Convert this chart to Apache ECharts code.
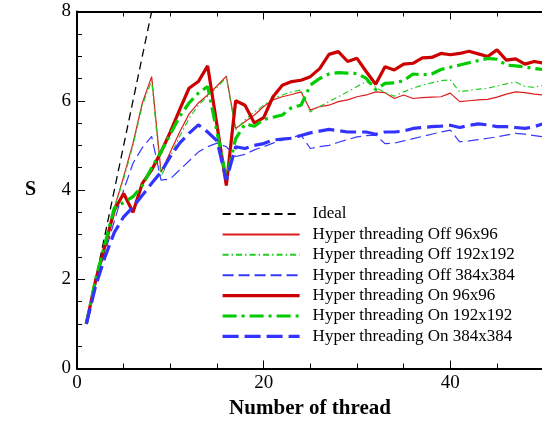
<!DOCTYPE html>
<html>
<head>
<meta charset="utf-8">
<script src="https://cdn.jsdelivr.net/npm/echarts@6/dist/echarts.min.js"></script>
<style>
  html, body { margin: 0; padding: 0; background: #fff; }
  #chart { width: 542px; height: 421px; }
</style>
</head>
<body>
<div id="chart"></div>
<script>
// thread counts (x) for all measured series
var threads = [1, 2, 3, 4, 5, 6, 7, 8, 9, 10, 11, 12, 13, 14, 15, 16, 17, 18, 19, 20,
  21, 22, 23, 24, 25, 26, 27, 28, 29, 30, 31, 32, 33, 34, 35, 36, 37, 38, 39, 40,
  41, 42, 43, 44, 45, 46, 47, 48, 49, 50]

var idealX = [1, 8]
var idealY = [1, 8]

// Hyper threading Off
var off96 = [1.0, 2.0, 2.8, 3.6, 4.3, 5.05, 5.95, 6.54, 4.4, 4.85, 5.3, 5.7, 5.95, 6.13, 6.33, 6.55, 5.38, 5.53, 5.68, 5.87,
  6.02, 6.09, 6.14, 6.2, 5.79, 5.87, 5.9, 5.98, 6.02, 6.09, 6.13, 6.2, 6.18, 6.05, 6.13, 6.05, 6.07, 6.08, 6.09, 6.17,
  5.98, 6.0, 6.02, 6.03, 6.08, 6.15, 6.2, 6.18, 6.15, 6.13]
var off192 = [1.0, 2.0, 2.8, 3.6, 4.25, 5.0, 5.9, 6.45, 4.3, 4.75, 5.2, 5.6, 5.9, 6.1, 6.3, 6.52, 5.34, 5.57, 5.75, 5.9,
  6.05, 6.13, 6.2, 6.24, 5.75, 5.87, 5.98, 6.09, 6.2, 6.32, 6.43, 6.3, 6.18, 6.1, 6.2, 6.28, 6.35, 6.4, 6.45, 6.47,
  6.2, 6.23, 6.26, 6.28, 6.33, 6.38, 6.42, 6.32, 6.3, 6.35]
var off384 = [1.0, 1.9, 2.6, 3.3, 4.0, 4.6, 4.95, 5.2, 4.22, 4.25, 4.45, 4.65, 4.85, 4.97, 5.05, 4.97, 4.75, 4.8, 4.9, 4.97,
  5.05, 5.12, 5.18, 5.23, 4.93, 4.97, 5.0, 5.07, 5.13, 5.19, 5.22, 5.23, 5.04, 5.05, 5.1, 5.15, 5.2, 5.25, 5.3, 5.34,
  5.08, 5.1, 5.13, 5.16, 5.19, 5.23, 5.27, 5.25, 5.22, 5.19]

// Hyper threading On
var on96 = [1.0, 1.98, 2.75, 3.55, 3.92, 3.5, 4.15, 4.45, 4.85, 5.3, 5.8, 6.28, 6.43, 6.78, 5.45, 4.1, 6.0, 5.9, 5.5, 5.62,
  6.09, 6.35, 6.43, 6.46, 6.54, 6.72, 7.04, 7.1, 6.88, 6.95, 6.65, 6.37, 6.76, 6.69, 6.82, 6.84, 6.96, 6.97, 7.06, 7.03,
  7.06, 7.11, 7.05, 6.99, 7.14, 6.91, 6.94, 6.82, 6.88, 6.84]
var on192 = [1.0, 2.0, 2.8, 3.6, 3.72, 3.85, 4.1, 4.5, 4.85, 5.25, 5.65, 5.95, 6.17, 6.32, 5.3, 4.25, 5.15, 5.48, 5.43, 5.58,
  5.63, 5.68, 5.85, 5.9, 6.35, 6.5, 6.6, 6.63, 6.62, 6.61, 6.5, 6.25, 6.39, 6.4, 6.45, 6.6, 6.58, 6.6, 6.7, 6.75,
  6.8, 6.85, 6.9, 6.95, 6.93, 6.8, 6.78, 6.76, 6.72, 6.7]
var on384 = [1.0, 1.85, 2.5, 3.05, 3.4, 3.62, 3.88, 4.15, 4.4, 4.75, 5.05, 5.27, 5.46, 5.3, 5.1, 4.22, 4.97, 4.93, 5.0, 5.04,
  5.12, 5.14, 5.16, 5.22, 5.28, 5.32, 5.36, 5.33, 5.3, 5.3, 5.3, 5.25, 5.3, 5.3, 5.32, 5.38, 5.4, 5.42, 5.43, 5.45,
  5.4, 5.45, 5.48, 5.46, 5.42, 5.42, 5.4, 5.38, 5.42, 5.49]

var seriesNames = ['Ideal', 'Hyper threading Off 96x96', 'Hyper threading Off 192x192', 'Hyper threading Off 384x384',
  'Hyper threading On 96x96', 'Hyper threading On 192x192', 'Hyper threading On 384x384']

var FONT = 'Liberation Serif'

function pairs (xs, ys) {
  return xs.map(function (x, i) { return [x, ys[i]] })
}

function lineSeries (name, data, color, width, dash) {
  return {
    name: name,
    type: 'line',
    data: data,
    symbol: 'none',
    animation: false,
    itemStyle: { color: color },
    lineStyle: { color: color, width: width, type: dash, cap: 'butt' }
  }
}

var chart = echarts.init(document.getElementById('chart'))

// x runs to 60 so the ticks land on 0/20/40 with minors every 5,
// the plot is wider than the window and gets cut at x = 50 like the original
var xBase = {
  type: 'value',
  min: 0,
  max: 60,
  interval: 20,
  axisLine: { show: true, onZero: false, lineStyle: { color: '#000', width: 2 } },
  axisTick: { show: true, inside: true, length: 8, lineStyle: { color: '#000', width: 1 } },
  minorTick: { show: true, splitNumber: 4, length: 5, lineStyle: { color: '#000', width: 1 } },
  splitLine: { show: false }
}
var yBase = {
  type: 'value',
  min: 0,
  max: 8,
  interval: 2,
  axisLine: { show: true, onZero: false, lineStyle: { color: '#000', width: 2 } },
  axisTick: { show: true, inside: true, length: 8, lineStyle: { color: '#000', width: 1 } },
  minorTick: { show: true, splitNumber: 4, length: 5, lineStyle: { color: '#000', width: 1 } },
  splitLine: { show: false }
}

// thick legend samples for the "On" runs
var legendData = seriesNames.map(function (n, i) {
  return i >= 4 ? { name: n, lineStyle: { width: 3.2 } } : { name: n }
})

var option = {
  backgroundColor: '#fff',
  animation: false,
  grid: { left: 77, top: 11.5, width: 560, height: 357, outerBoundsMode: 'none', containLabel: false },
  legend: {
    orient: 'vertical',
    left: 221,
    top: 205.5,
    padding: 0,
    itemWidth: 77,
    itemHeight: 14,
    itemGap: 3.4,
    data: legendData,
    itemStyle: { opacity: 0 },
    textStyle: { fontFamily: FONT, fontSize: 17, color: '#000', padding: [0, 0, 0, 8] }
  },
  xAxis: [
    Object.assign({}, xBase, {
      position: 'bottom',
      name: 'Number of thread',
      nameLocation: 'middle',
      nameGap: 30,
      nameTextStyle: { fontFamily: FONT, fontSize: 21, fontWeight: 'bold', color: '#000', padding: [0, 94, 0, 0] },
      axisLabel: { fontFamily: FONT, fontSize: 19, color: '#000', margin: 5 }
    }),
    Object.assign({}, xBase, { position: 'top', axisLabel: { show: false } })
  ],
  yAxis: [
    Object.assign({}, yBase, {
      position: 'left',
      name: 'S',
      nameLocation: 'middle',
      nameRotate: 0,
      nameGap: 41,
      nameTextStyle: { fontFamily: FONT, fontSize: 20, fontWeight: 'bold', color: '#000' },
      axisLabel: { fontFamily: FONT, fontSize: 19, color: '#000', margin: 6 }
    }),
    Object.assign({}, yBase, { position: 'right', axisLabel: { show: false } })
  ],
  series: [
    lineSeries(seriesNames[0], pairs(idealX, idealY), '#000000', 1.3, [8, 5]),
    lineSeries(seriesNames[1], pairs(threads, off96), '#dd1c1c', 1.2, 'solid'),
    lineSeries(seriesNames[2], pairs(threads, off192), '#22cc22', 1.2, [6, 3, 1.5, 3]),
    lineSeries(seriesNames[3], pairs(threads, off384), '#3838ff', 1.2, [11, 5]),
    lineSeries(seriesNames[4], pairs(threads, on96), '#cc0000', 3.2, 'solid'),
    lineSeries(seriesNames[5], pairs(threads, on192), '#00cc00', 3.2, [14, 5, 3, 5]),
    lineSeries(seriesNames[6], pairs(threads, on384), '#3333ff', 3.2, [16, 6])
  ]
}

chart.setOption(option)
</script>
</body>
</html>
